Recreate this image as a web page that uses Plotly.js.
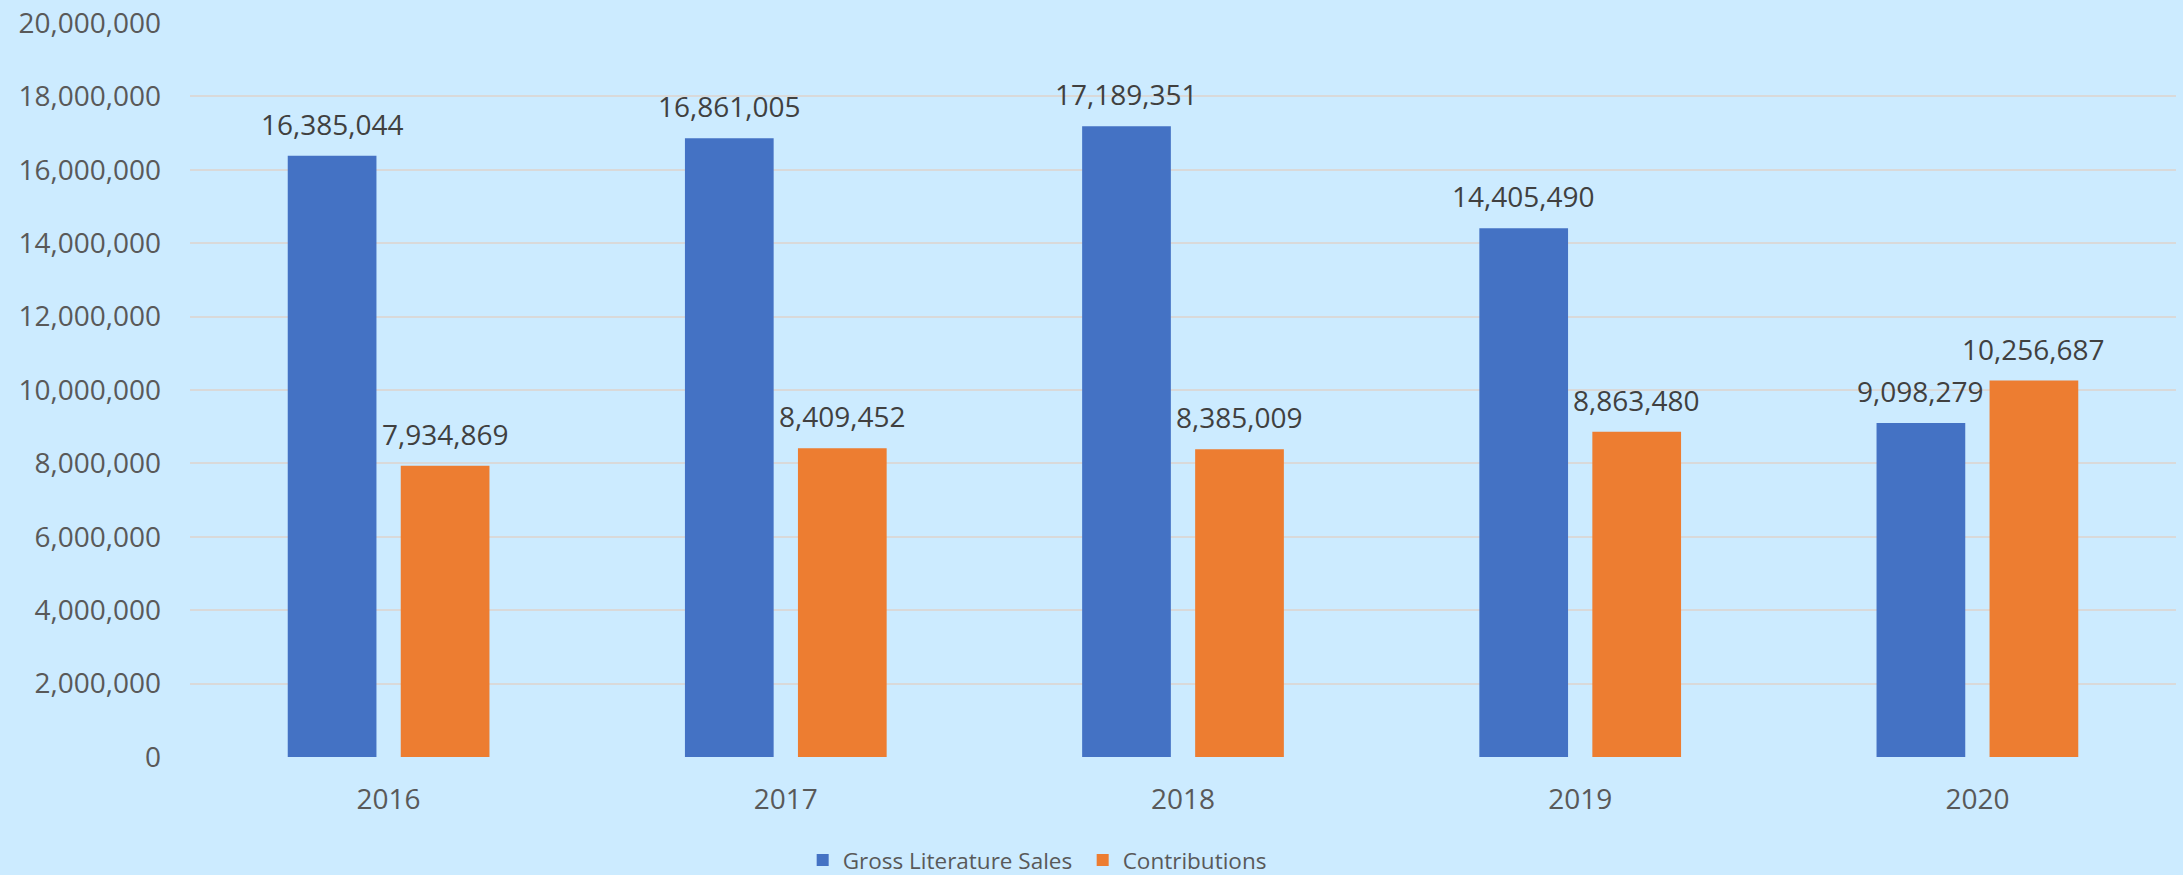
<!DOCTYPE html>
<html>
<head>
<meta charset="utf-8">
<script src="https://cdn.plot.ly/plotly-3.0.1.min.js"></script>
<style>
  html, body { margin: 0; padding: 0; background: #CCEBFF; }
  #chart { width: 2183px; height: 875px; }
</style>
</head>
<body>
<div id="chart"></div>
<script>
// Yearly totals
const years = ['2016', '2017', '2018', '2019', '2020'];
const grossLiteratureSales = [16385044, 16861005, 17189351, 14405490, 9098279];
const contributions = [7934869, 8409452, 8385009, 8863480, 10256687];

const seriesNames = ['Gross Literature Sales', 'Contributions'];
const seriesColors = ['#4472C4', '#ED7D31'];
const seriesValues = [grossLiteratureSales, contributions];

const font = '"Open Sans", "Liberation Sans", sans-serif';

const traces = seriesValues.map((vals, i) => ({
  type: 'bar',
  name: seriesNames[i],
  x: years,
  y: vals,
  marker: { color: seriesColors[i], line: { width: 0 } },
  hoverinfo: 'x+y+name'
}));

// Value labels above each bar; on a category axis the year strings look numeric,
// so the annotations are placed by category index and shifted over their bar.
const groupOffset = 56.5;
const annotations = [];
seriesValues.forEach((vals, i) => {
  vals.forEach((v, j) => {
    annotations.push({
      x: j,
      y: v,
      xref: 'x',
      yref: 'y',
      text: v.toLocaleString('en-US'),
      showarrow: false,
      xanchor: 'center',
      yanchor: 'bottom',
      xshift: i === 0 ? -groupOffset : groupOffset,
      yshift: 11,
      font: { family: font, size: 28, color: '#404040' }
    });
  });
});

const layout = {
  width: 2183,
  height: 875,
  paper_bgcolor: '#CCEBFF',
  plot_bgcolor: '#CCEBFF',
  margin: { l: 190, r: 7, t: 23, b: 118, pad: 0, autoexpand: false },
  barmode: 'group',
  bargap: 0.431,
  bargroupgap: 0.215,
  showlegend: true,
  legend: {
    orientation: 'h',
    x: 0.3085,
    xanchor: 'left',
    y: -0.141,
    yanchor: 'middle',
    entrywidth: 235,
    entrywidthmode: 'pixels',
    font: { family: font, size: 22.5, color: '#595959' },
    bgcolor: 'rgba(0,0,0,0)'
  },
  xaxis: {
    type: 'category',
    range: [-0.5, years.length - 0.5],
    showgrid: false,
    showline: false,
    zeroline: false,
    ticks: '',
    ticklabelstandoff: 23,
    tickfont: { family: font, size: 28, color: '#595959' }
  },
  yaxis: {
    range: [0, 20000000],
    dtick: 2000000,
    tick0: 0,
    tickformat: ',d',
    showgrid: true,
    gridcolor: '#D9D9D9',
    gridwidth: 2,
    zeroline: false,
    showline: false,
    ticks: '',
    ticklabelstandoff: 28,
    tickfont: { family: font, size: 28, color: '#595959' }
  },
  annotations: annotations,
  hovermode: 'closest'
};

Plotly.newPlot('chart', traces, layout, { displayModeBar: false, staticPlot: true });
</script>
</body>
</html>
